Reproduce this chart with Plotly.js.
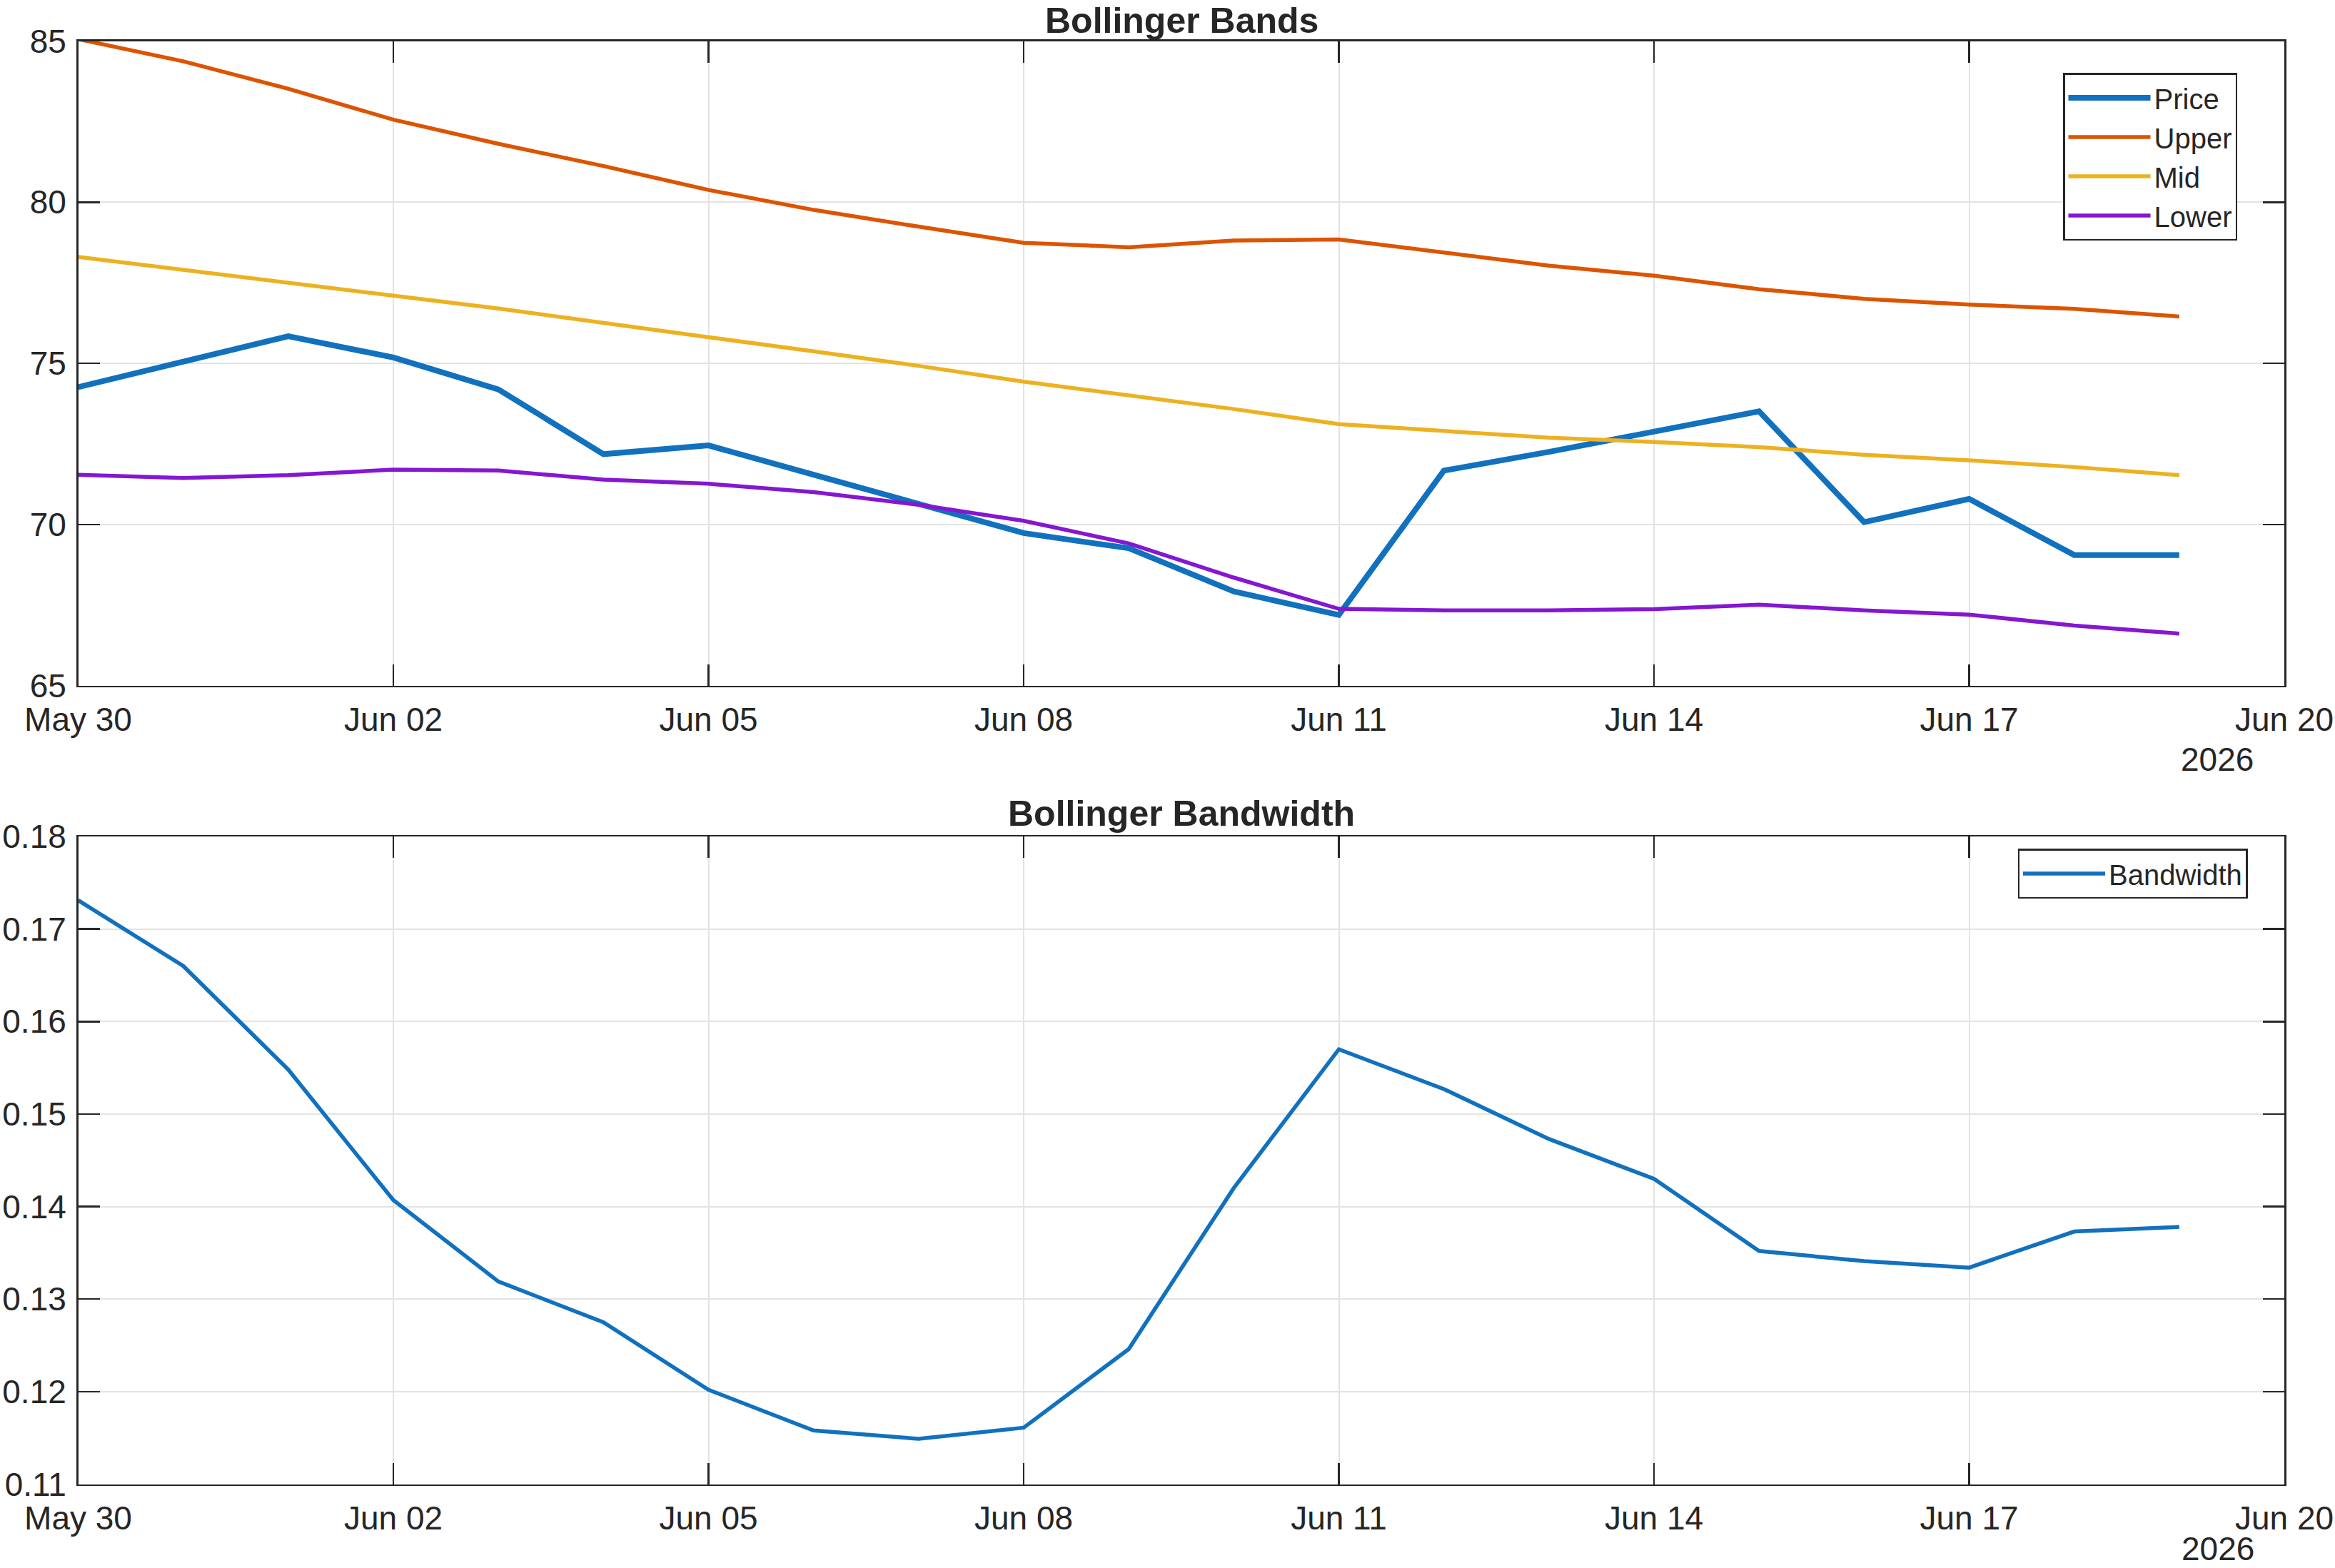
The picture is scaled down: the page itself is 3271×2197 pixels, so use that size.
<!DOCTYPE html>
<html>
<head>
<meta charset="utf-8">
<script src="https://cdn.plot.ly/plotly-3.0.1.min.js"></script>
<style>
  html, body { margin: 0; padding: 0; background: #ffffff; }
  #chart { width: 3271px; height: 2197px; }
</style>
</head>
<body>
<div id="chart"></div>
<script>
// ---- Data ----
const dates = [
  "2026-05-30", "2026-05-31", "2026-06-01", "2026-06-02", "2026-06-03",
  "2026-06-04", "2026-06-05", "2026-06-06", "2026-06-07", "2026-06-08",
  "2026-06-09", "2026-06-10", "2026-06-11", "2026-06-12", "2026-06-13",
  "2026-06-14", "2026-06-15", "2026-06-16", "2026-06-17", "2026-06-18",
  "2026-06-19"
];
const price = [74.26, 75.04, 75.84, 75.18, 74.19, 72.18, 72.45, 71.54, 70.64, 69.73,
               69.26, 67.92, 67.19, 71.67, 72.25, 72.87, 73.51, 70.07, 70.79, 69.05, 69.05];
const upper = [85.06, 84.37, 83.52, 82.56, 81.81, 81.12, 80.38, 79.76, 79.24, 78.74,
               78.60, 78.81, 78.84, 78.44, 78.03, 77.72, 77.30, 77.00, 76.82, 76.69, 76.45];
const mid   = [78.30, 77.89, 77.51, 77.10, 76.70, 76.24, 75.81, 75.37, 74.92, 74.43,
               74.00, 73.58, 73.11, 72.90, 72.69, 72.56, 72.40, 72.16, 71.99, 71.78, 71.53];
const lower = [71.54, 71.44, 71.53, 71.70, 71.67, 71.39, 71.26, 71.00, 70.61, 70.11,
               69.41, 68.35, 67.38, 67.33, 67.33, 67.37, 67.51, 67.33, 67.20, 66.86, 66.61];
const bandwidth = [0.1731, 0.1660, 0.1548, 0.1407, 0.1319, 0.1275, 0.1202, 0.1158, 0.1149, 0.1161,
                   0.1246, 0.1420, 0.1570, 0.1527, 0.1473, 0.1430, 0.1352, 0.1341, 0.1334, 0.1373, 0.1378];

const seriesNames = ["Price", "Upper", "Mid", "Lower"];
const bandwidthName = "Bandwidth";
const titleTop = "Bollinger Bands";
const titleBottom = "Bollinger Bandwidth";
const yearLabel = "2026";
const xRange = ["2026-05-30", "2026-06-20"];
const topYRange = [65, 85];
const bottomYRange = [0.11, 0.18];

// ---- Layout geometry (pixels) ----
const W = 3271, H = 2197;
const px = v => v / W;
const py = v => 1 - v / H;

const colors = { price: "#1171BE", upper: "#DD5400", mid: "#EDB120", lower: "#8516D1" };
const axisColor = "#262626";
const gridColor = "#e3e3e3";
const FONT = "Liberation Sans, Arial, Helvetica, sans-serif";
const TICK_SIZE = 46;

const traces = [
  { x: dates, y: price, name: seriesNames[0], type: "scatter", mode: "lines",
    line: { color: colors.price, width: 8 }, xaxis: "x", yaxis: "y", legend: "legend" },
  { x: dates, y: upper, name: seriesNames[1], type: "scatter", mode: "lines",
    line: { color: colors.upper, width: 5.5 }, xaxis: "x", yaxis: "y", legend: "legend" },
  { x: dates, y: mid, name: seriesNames[2], type: "scatter", mode: "lines",
    line: { color: colors.mid, width: 5.5 }, xaxis: "x", yaxis: "y", legend: "legend" },
  { x: dates, y: lower, name: seriesNames[3], type: "scatter", mode: "lines",
    line: { color: colors.lower, width: 5.5 }, xaxis: "x", yaxis: "y", legend: "legend" },
  { x: dates, y: bandwidth, name: bandwidthName, type: "scatter", mode: "lines",
    line: { color: colors.price, width: 5.5 }, xaxis: "x2", yaxis: "y2", legend: "legend2" }
];

function xAxis(anchor) {
  return {
    type: "date", anchor: anchor, domain: [px(109.5), px(3200)],
    range: xRange, tick0: xRange[0], dtick: 3 * 86400000, tickformat: "%b %d",
    ticks: "inside", ticklen: 30, tickwidth: 2.5, tickcolor: axisColor,
    showline: true, linecolor: axisColor, linewidth: 2.5, mirror: "ticks",
    showgrid: true, gridcolor: gridColor, gridwidth: 2, zeroline: false,
    ticklabelstandoff: 6,
    tickfont: { family: FONT, size: TICK_SIZE, color: axisColor }, automargin: false
  };
}
function yAxis(anchor, domain, range, dtick, fmt) {
  return {
    anchor: anchor, domain: domain, range: range, dtick: dtick, tick0: range[0],
    tickformat: fmt,
    ticks: "inside", ticklen: 30, tickwidth: 2.5, tickcolor: axisColor,
    showline: true, linecolor: axisColor, linewidth: 2.5, mirror: "ticks",
    showgrid: true, gridcolor: gridColor, gridwidth: 2, zeroline: false,
    ticklabelstandoff: 5,
    tickfont: { family: FONT, size: TICK_SIZE, color: axisColor }, automargin: false
  };
}

const legendCommon = {
  xanchor: "right", yanchor: "top",
  bgcolor: "#ffffff", bordercolor: axisColor, borderwidth: 2.5,
  font: { family: FONT, size: 40, color: axisColor },
  itemwidth: 115, tracegroupgap: 0, traceorder: "normal"
};

const layout = {
  width: W, height: H,
  margin: { l: 0, r: 0, t: 0, b: 0 },
  paper_bgcolor: "#ffffff", plot_bgcolor: "#ffffff",
  font: { family: FONT, size: TICK_SIZE, color: axisColor },
  showlegend: true,
  xaxis: xAxis("y"),
  yaxis: yAxis("x", [py(960.5), py(57.5)], topYRange, 5, ""),
  xaxis2: xAxis("y2"),
  yaxis2: yAxis("x2", [py(2079.5), py(1172)], bottomYRange, 0.01, ".2f"),
  legend: Object.assign({ x: px(3134), y: py(102) }, legendCommon),
  legend2: Object.assign({ x: px(3148.5), y: py(1189) }, legendCommon),
  annotations: [
    { text: titleTop, xref: "paper", yref: "paper", x: px(1655), y: 1,
      xanchor: "center", yanchor: "top", showarrow: false, borderpad: 0,
      font: { family: FONT, size: 50, color: axisColor, weight: "bold" } },
    { text: titleBottom, xref: "paper", yref: "paper", x: px(1655), y: py(1140),
      xanchor: "center", yanchor: "middle", showarrow: false,
      font: { family: FONT, size: 50, color: axisColor, weight: "bold" } },
    { text: yearLabel, xref: "paper", yref: "paper", x: px(3159), y: py(1036),
      xanchor: "right", yanchor: "top", showarrow: false,
      font: { family: FONT, size: TICK_SIZE, color: axisColor } },
    { text: yearLabel, xref: "paper", yref: "paper", x: px(3159), y: 0,
      xanchor: "right", yanchor: "bottom", showarrow: false, borderpad: 0,
      font: { family: FONT, size: TICK_SIZE, color: axisColor } }
  ]
};

Plotly.newPlot("chart", traces, layout, { staticPlot: true, displayModeBar: false });
</script>
</body>
</html>
